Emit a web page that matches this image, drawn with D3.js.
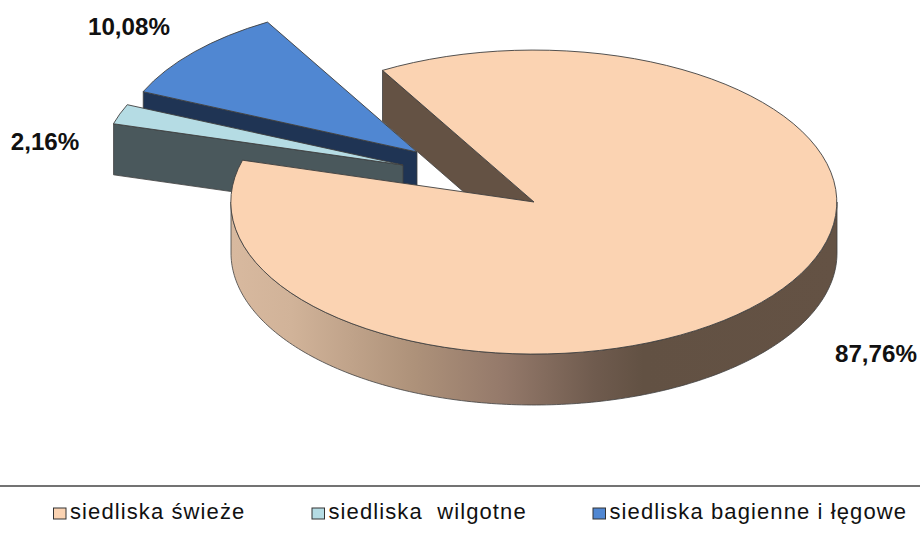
<!DOCTYPE html>
<html><head><meta charset="utf-8">
<script src="https://cdn.jsdelivr.net/npm/d3@7"></script>
<style>html,body{margin:0;background:#fff}svg{display:block}</style></head>
<body><svg id="c" width="920" height="536"></svg>
<script>
(function(){
const categories=["siedliska świeże","siedliska  wilgotne","siedliska bagienne i łęgowe"];
const values=[87.76,2.16,10.08];
const valueLabels=["87,76%","2,16%","10,08%"];
const topColors=["#fbd3b2","#b5dce4","#5087d2"];
const wallColors=["#645244","#4a585c","#1f3454"];

const W=920,H=536,depth=51;
const radii=[[303,152],[301,150],[299,150]];
const centers=[[534,202],[403,165],[417,152]];
const labelPos=[[876,362],[45,150],[129,35]];
const legendX=[53.5,312,593],legendY=513.5;

const svg=d3.select("#c");
const defs=svg.append("defs");
const grad=defs.append("linearGradient").attr("id","side").attr("gradientUnits","userSpaceOnUse")
 .attr("x1",231).attr("x2",837).attr("y1",0).attr("y2",0);
[[0,"#d8b99f"],[.1,"#d1b399"],[.3,"#ae927a"],[.45,"#94796a"],[.6,"#6f5b4e"],[.68,"#625143"],[1,"#645244"]]
 .forEach(s=>grad.append("stop").attr("offset",s[0]).attr("stop-color",s[1]));

const pie=d3.pie().sort(null).value(d=>d).startAngle(-Math.PI/6).endAngle(2*Math.PI-Math.PI/6);
const arcs=pie(values);
const unit=d3.scaleLinear().domain([-1,1]).range([-1,1]);
const pt=(a,i,dy=0)=>[centers[i][0]+unit(Math.sin(a))*radii[i][0],centers[i][1]-unit(Math.cos(a))*radii[i][1]+dy];
const arcGen=d3.arc().innerRadius(0).outerRadius(1);
const line=d3.line();
const edge="#404040";

function arcPts(a0,a1,i,dy){const n=Math.max(2,Math.ceil(Math.abs(a1-a0)*60));
 return d3.range(n+1).map(k=>pt(a0+(a1-a0)*k/n,i,dy));}
function face(i){const c=centers[i],a=arcs[i];
 svg.append("path").attr("d",arcGen(a)).attr("transform",`translate(${c[0]},${c[1]}) scale(${radii[i][0]},${radii[i][1]})`)
  .attr("fill",topColors[i]).attr("stroke",edge).attr("stroke-width",.9).attr("vector-effect","non-scaling-stroke");}
function flat(i){const a=arcs[i].startAngle,c=centers[i];return [pt(a,i),c,[c[0],c[1]+depth],pt(a,i,depth)];}
function wall(pts,fill){svg.append("path").attr("d",line(pts)+"Z").attr("fill",fill).attr("stroke",edge).attr("stroke-width",.8).attr("stroke-linejoin","round");}

wall(flat(2),wallColors[2]);
face(2);
wall(flat(1),wallColors[1]);
face(1);
wall(flat(0),wallColors[0]);
const rim=[...arcPts(Math.PI/2,3*Math.PI/2,0,0),...arcPts(3*Math.PI/2,Math.PI/2,0,depth)];
wall(rim,"url(#side)");
face(0);

svg.selectAll("text.v").data(valueLabels).join("text").attr("class","v")
 .attr("x",(d,i)=>labelPos[i][0]).attr("y",(d,i)=>labelPos[i][1])
 .attr("text-anchor","middle").attr("font-family","Liberation Sans").attr("font-weight","bold")
 .attr("font-size",24.2).attr("fill","#111").text(d=>d);

svg.append("line").attr("x1",0).attr("x2",W).attr("y1",486).attr("y2",486).attr("stroke","#444").attr("stroke-width",1.4);
categories.forEach((t,i)=>{
 svg.append("rect").attr("x",legendX[i]).attr("y",legendY-5.5).attr("width",12.5).attr("height",11)
  .attr("fill",topColors[i]).attr("stroke","#333").attr("stroke-width",1);
 svg.append("text").attr("x",legendX[i]+16.5).attr("y",519).style("white-space","pre")
  .attr("font-family","Liberation Sans").attr("font-size",22).attr("letter-spacing",1.1).attr("fill","#111").text(t);
});
})();
</script></body></html>
